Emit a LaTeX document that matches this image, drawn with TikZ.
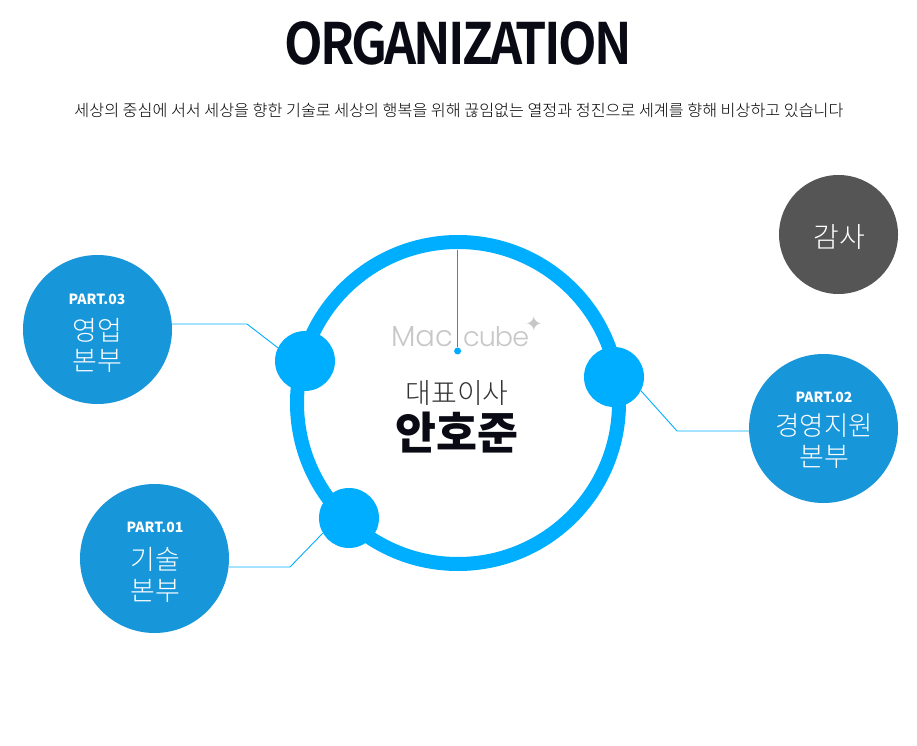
\documentclass[tikz,border=0pt]{standalone}
\usepackage{fontspec}
\setmainfont{Noto Sans CJK KR}
\newfontfamily\krlight{Noto Sans CJK KR Light}
\newfontfamily\titlefont{Noto Sans CJK KR Bold}[FakeStretch=0.88,LetterSpace=-4.8]
\newfontfamily\logofont{Poppins Light}
\newfontfamily\logotight{Poppins Light}[LetterSpace=-3.5]
\newfontfamily\symfont{DejaVu Sans}
\definecolor{ringblue}{HTML}{00AEFF}
\definecolor{partblue}{HTML}{1896DA}
\definecolor{auditgrey}{HTML}{555555}
\definecolor{titleink}{HTML}{0A0A14}
\tikzset{
  x=1pt,y=1pt,
  dotnode/.style={circle,fill=ringblue,minimum size=60pt,inner sep=0pt},
  partnode/.style={circle,fill=partblue,minimum size=149pt,inner sep=0pt},
  link/.style={draw=ringblue,line width=0.9pt},
  plabel/.style={text=white,font=\fontsize{14}{14}\selectfont\bfseries,inner sep=0pt},
  klabel/.style={text=white,font=\krlight\fontsize{27}{27}\selectfont,inner sep=0pt},
}
\begin{document}
\begin{tikzpicture}
\useasboundingbox (0,0) rectangle (917,745);
\fill[white] (0,0) rectangle (917,745);
\node[font=\titlefont\fontsize{57}{57}\selectfont,text=titleink,inner sep=0pt] (title) at (458,702) {ORGANIZATION};
\node[font=\krlight\fontsize{16.2}{16}\selectfont,text=black,inner sep=0pt] (sub) at (459,635) {세상의 중심에 서서 세상을 향한 기술로 세상의 행복을 위해 끊임없는 열정과 정진으로 세계를 향해 비상하고 있습니다};
\node[circle,draw=ringblue,line width=14pt,minimum size=322pt,inner sep=0pt] (ring) at (458,342) {};
\node[dotnode] (d3) at (305,384) {};
\node[dotnode] (d2) at (614,368) {};
\node[dotnode] (d1) at (349,227) {};
\node[partnode] (p3) at (97.5,415.5) {};
\node[partnode] (p1) at (154.5,186.5) {};
\node[partnode] (p2) at (823.5,316.5) {};
\node[circle,fill=auditgrey,minimum size=119pt,inner sep=0pt] (audit) at (838.5,510.5) {};
\node[text=white,font=\krlight\fontsize{28}{28}\selectfont,inner sep=0pt] (audittext) at (839,508) {감사};
% part labels
\node[plabel] (p3a) at (97,446) {PART.03};
\node[klabel] (p3b) at (97,415) {영업};
\node[klabel] (p3c) at (97,384) {본부};
\node[plabel] (p1a) at (155,218) {PART.01};
\node[klabel] (p1b) at (155,186) {기술};
\node[klabel] (p1c) at (155,154) {본부};
\node[plabel] (p2a) at (824,348) {PART.02};
\node[klabel,font=\krlight\fontsize{26.5}{27}\selectfont] (p2b) at (824,319) {경영지원};
\node[klabel] (p2c) at (824,288) {본부};
% connectors
\coordinate (b3) at (247,421);
\coordinate (b1) at (290,178);
\coordinate (b2) at (677,314);
\draw[link] (p3.east |- b3) -- (b3) -- (d3.154);
\draw[link] (p1.east |- b1) -- (b1) -- (d1.210);
\draw[link] (p2.west |- b2) -- (b2) -- (d2.-27);
% centre
\coordinate (top) at (457.6,495);
\node[circle,fill=ringblue,minimum size=7pt,inner sep=0pt] (pin) at (457.6,394) {};
\node[font=\logofont\fontsize{29}{29}\selectfont,text=black!22,inner sep=0pt,anchor=base east] (mac) at (453,398) {Mac};
\node[font=\logotight\fontsize{27}{27}\selectfont,text=black!22,inner sep=0pt,anchor=base west] (cube) at (463,398) {cube};
\node[font=\symfont\fontsize{21}{21}\selectfont,text=black!22,inner sep=0pt] (plus) at (534,421) {✦};
\draw[draw=partblue,line width=0.8pt] (top) -- (pin);
\node[font=\krlight\fontsize{28}{28}\selectfont,text=black!80,inner sep=0pt] (role) at (457,352) {대표이사};
\node[font=\fontsize{44.5}{44}\selectfont\bfseries,text=titleink,inner sep=0pt] (name) at (457,312) {안호준};
\end{tikzpicture}
\end{document}
